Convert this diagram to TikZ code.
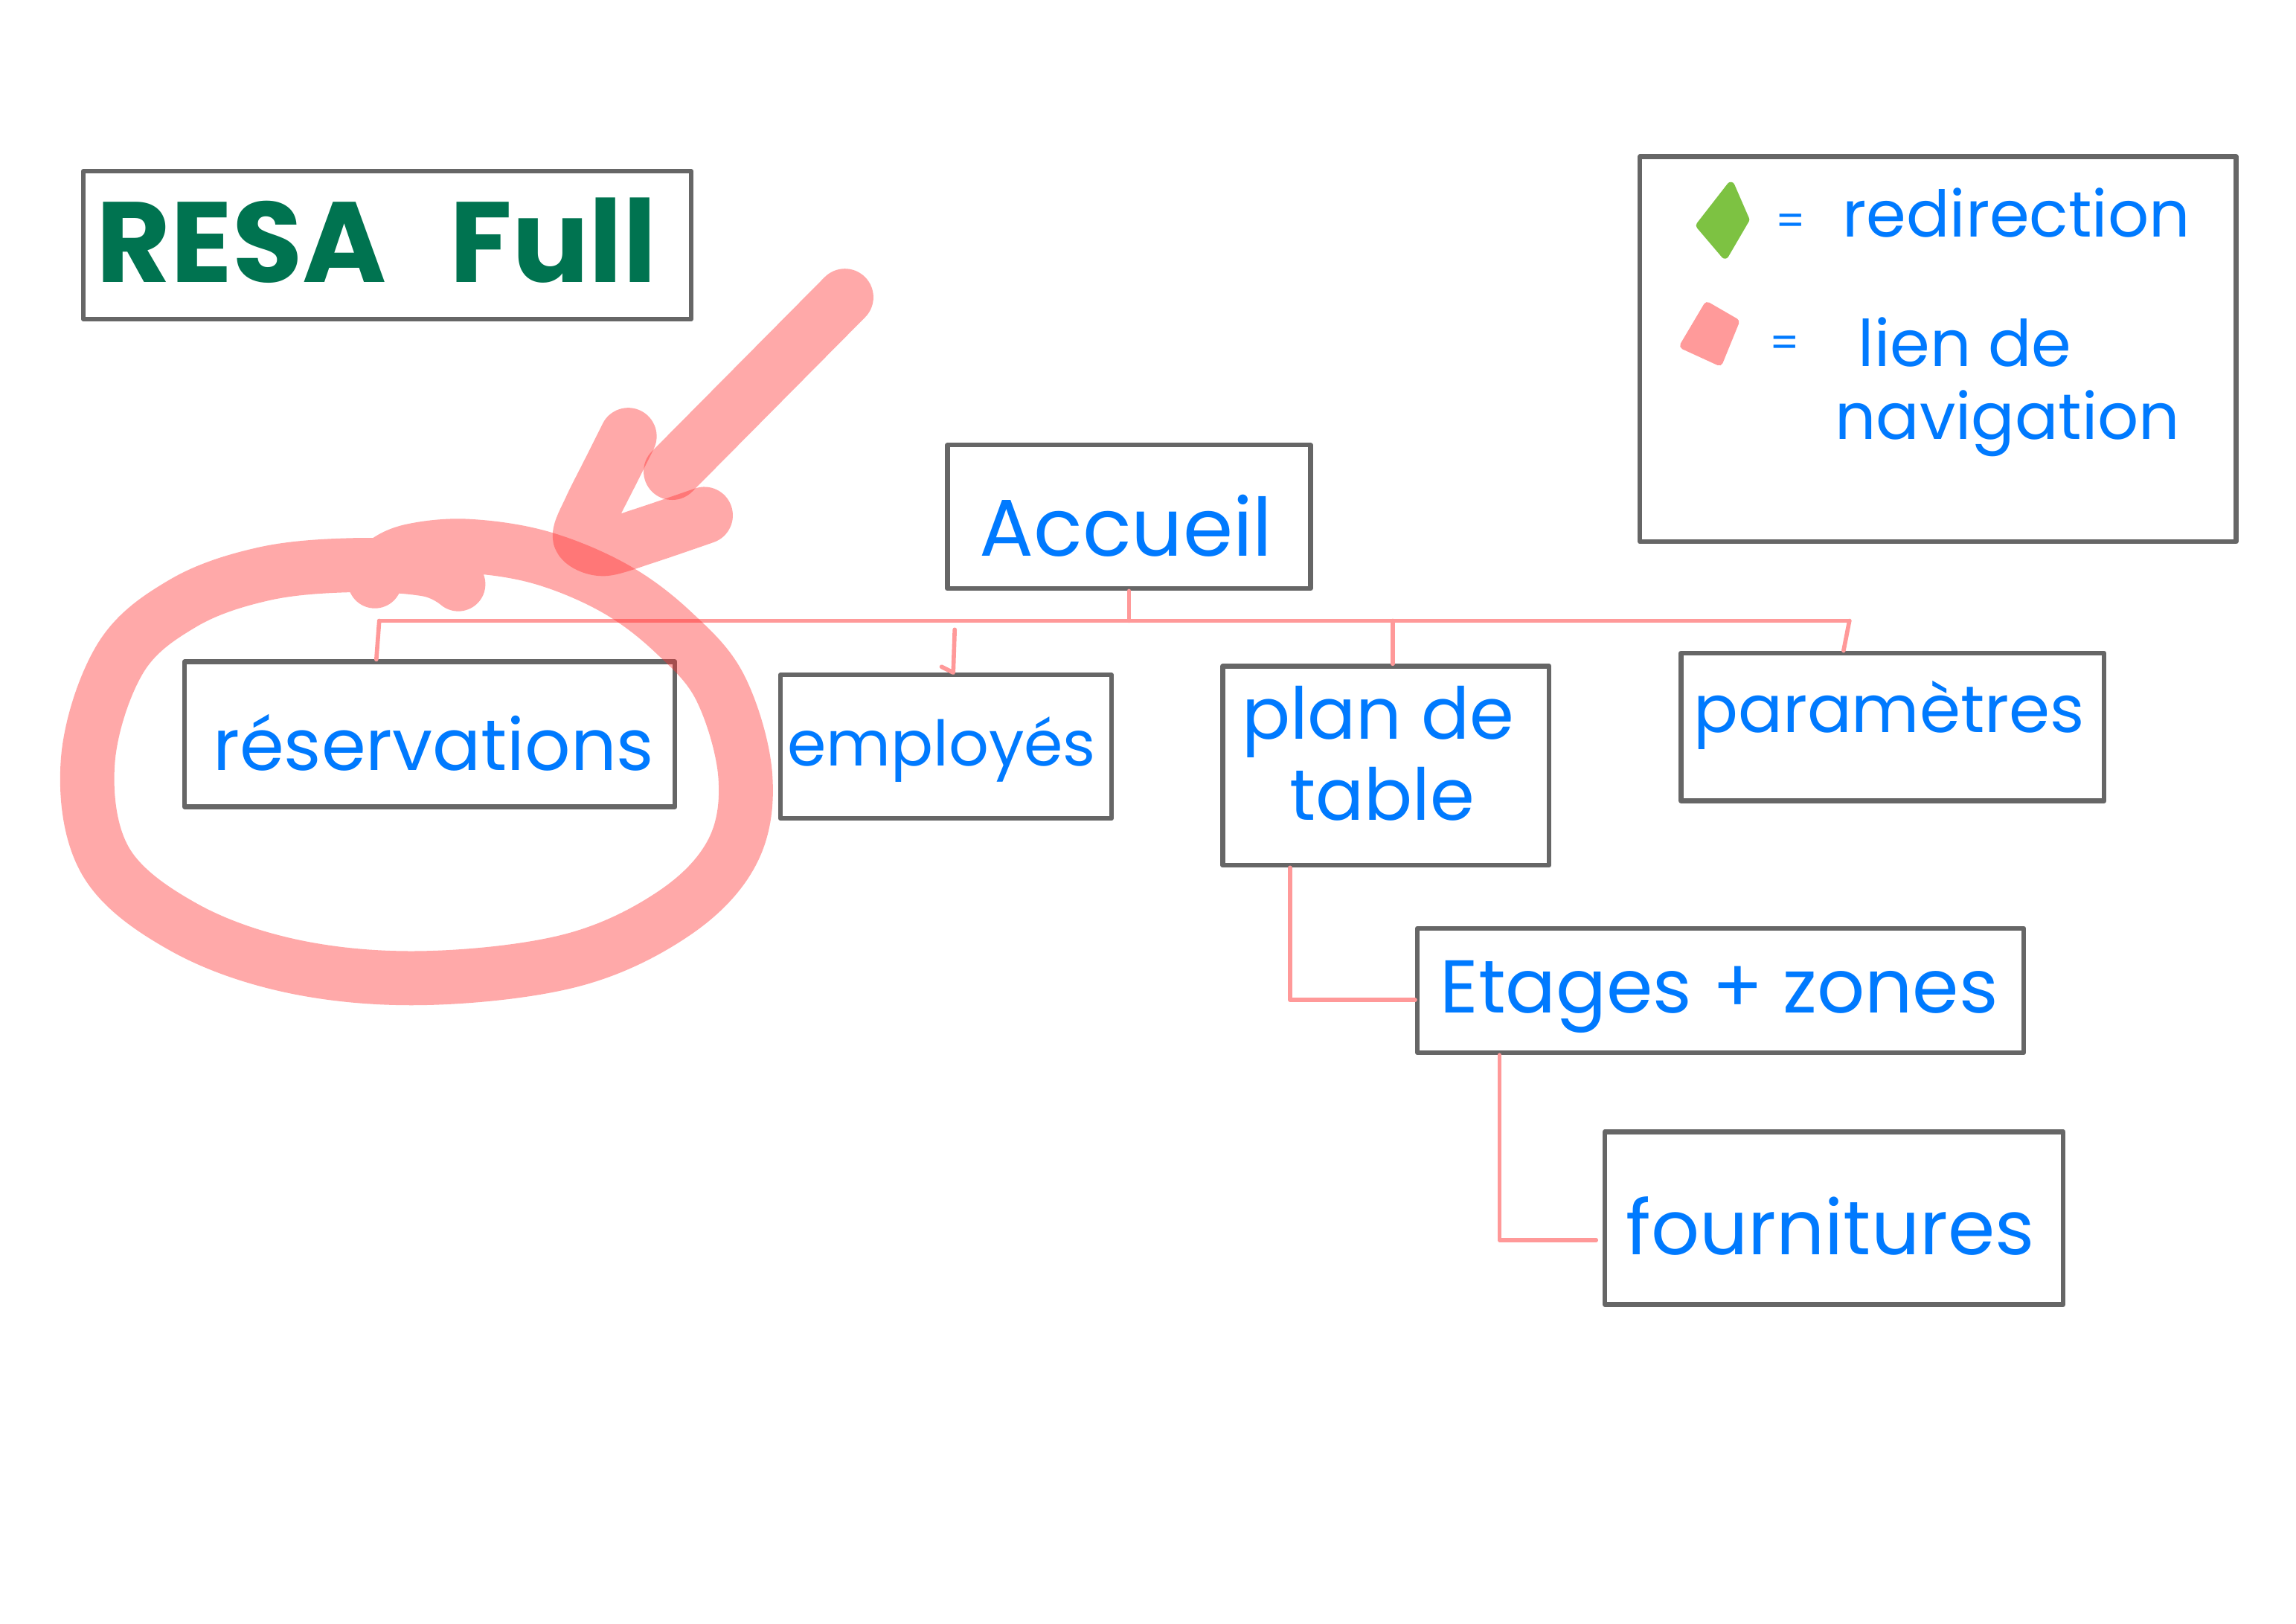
\documentclass[tikz,border=0pt]{standalone}
\usepackage{fontspec}
\setmainfont{Poppins}
\usetikzlibrary{fit}
\definecolor{boxgray}{HTML}{666666}
\definecolor{inkblue}{HTML}{007AFF}
\definecolor{titlegreen}{HTML}{007350}
\definecolor{linkpink}{HTML}{FF9999}
\definecolor{markred}{RGB}{255,48,48}
\definecolor{legendgreen}{HTML}{7DC242}
\definecolor{legendpink}{HTML}{FF9A9A}

\begin{document}
\begin{tikzpicture}[x=0.019681cm, y=-0.019681cm,
  boxframe/.style={draw=boxgray, line width=1.8pt, line join=round, inner sep=0pt},
  lbl/.style={text=inkblue, anchor=base, inner sep=0pt, font=\fontsize{#1}{#1}\selectfont},
  link/.style={draw=linkpink, line width=1.6pt, line cap=round, line join=round},
  hilite/.style={draw=markred, draw opacity=0.41, line width=#1, line cap=round, line join=round},
  swatch/.style={fill=#1, draw=#1, line width=3pt, line join=round},
]
% page
\fill[white] (0,0) rectangle (1568,1109);
\useasboundingbox (0,0) rectangle (1568,1109);

% frames
\node[boxframe, fit={(57,117) (472,218)}] (title) {};
\node[boxframe, fit={(1120,107) (1527,370)}] (legend) {};
\node[boxframe, fit={(647,304) (895,402)}] (accueil) {};
\node[boxframe, fit={(126,452) (461,551)}] (resa) {};
\node[boxframe, fit={(533,461) (759,559)}] (employes) {};
\node[boxframe, fit={(835,455) (1058,591)}] (plan) {};
\node[boxframe, fit={(1148,446) (1437,547)}] (params) {};
\node[boxframe, fit={(968,634) (1382,719)}] (etages) {};
\node[boxframe, fit={(1096,773) (1409,891)}] (fourn) {};

% title
\node[lbl=43.7, text=titlegreen, font=\bfseries\fontsize{43.7}{44}\selectfont] (ttl) at (257,193) {RESA\hspace{0.55em}Full};

% legend
\filldraw[swatch=legendgreen] (1182,127) -- (1192,150) -- (1178,174) -- (1161,154) -- cycle;
\filldraw[swatch=legendpink] (1166,209) -- (1185,220) -- (1174,247) -- (1150,236) -- cycle;
\node[lbl=16] (eqa) at (1223,161) {=};
\node[lbl=24.6] (redir) at (1377,162) {redirection};
\node[lbl=16] (eqb) at (1219,244) {=};
\node[lbl=24.6] (lien) at (1342,250) {lien de};
\node[lbl=24.6] (navig) at (1371,300) {navigation};

% labels
\node[lbl=30.8] (tacc) at (769,380) {Accueil};
\node[lbl=27.4] (tresa) at (296,526) {réservations};
\node[lbl=24] (temp) at (643,523) {employés};
\node[lbl=27.4] (tplan) at (941,505) {plan de};
\node[lbl=27.4] (ttable) at (944,560) {table};
\node[lbl=25.2] (tparam) at (1290,500) {paramètres};
\node[lbl=28.6] (tetag) at (1174,692) {Etages + zones};
\node[lbl=29] (tfourn) at (1250,857) {fournitures};

% navigation links
\coordinate (busL) at (259,424);
\coordinate (busP) at (951,424);
\coordinate (busR) at (1263,424);
\coordinate (empTop) at (652,430);
\coordinate (fEnd) at (1090,847);
\draw[link] (accueil.south) -- (accueil.south |- busL);
\draw[link] (busL) -- (busR);
\draw[link] (busL) -- (resa.north -| 257,0);
\draw[link] (empTop) -- (employes.north -| 651,0) -- ++(-8,-4);
\draw[link] (busP) -- (plan.north -| busP);
\draw[link] (busR) -- (params.north -| 1259,0);
\draw[link] (plan.south -| 881,0) |- (etages.west |- 0,683);
\draw[link] (etages.south -| 1024,0) |- (fEnd);

% highlight: circle and arrow
\draw[hilite=20.7pt] plot[smooth, tension=0.6] coordinates {(313,399) (292,389) (240,386) (180,392) (125,412) (82,450) (60,520) (72,588) (125,633) (200,660) (290,668) (390,656) (460,624) (500,582) (509,530) (492,470) (460,432) (420,402) (370,381) (320,373) (282,376) (262,385) (256,397)};
\draw[hilite=21.8pt] (577,203) -- (459,322);
\draw[hilite=21.8pt] plot[smooth, tension=0.5] coordinates {(429,298) (417,322) (404,348) (397,367) (412,374) (440,366) (481,352)};
\end{tikzpicture}
\end{document}
